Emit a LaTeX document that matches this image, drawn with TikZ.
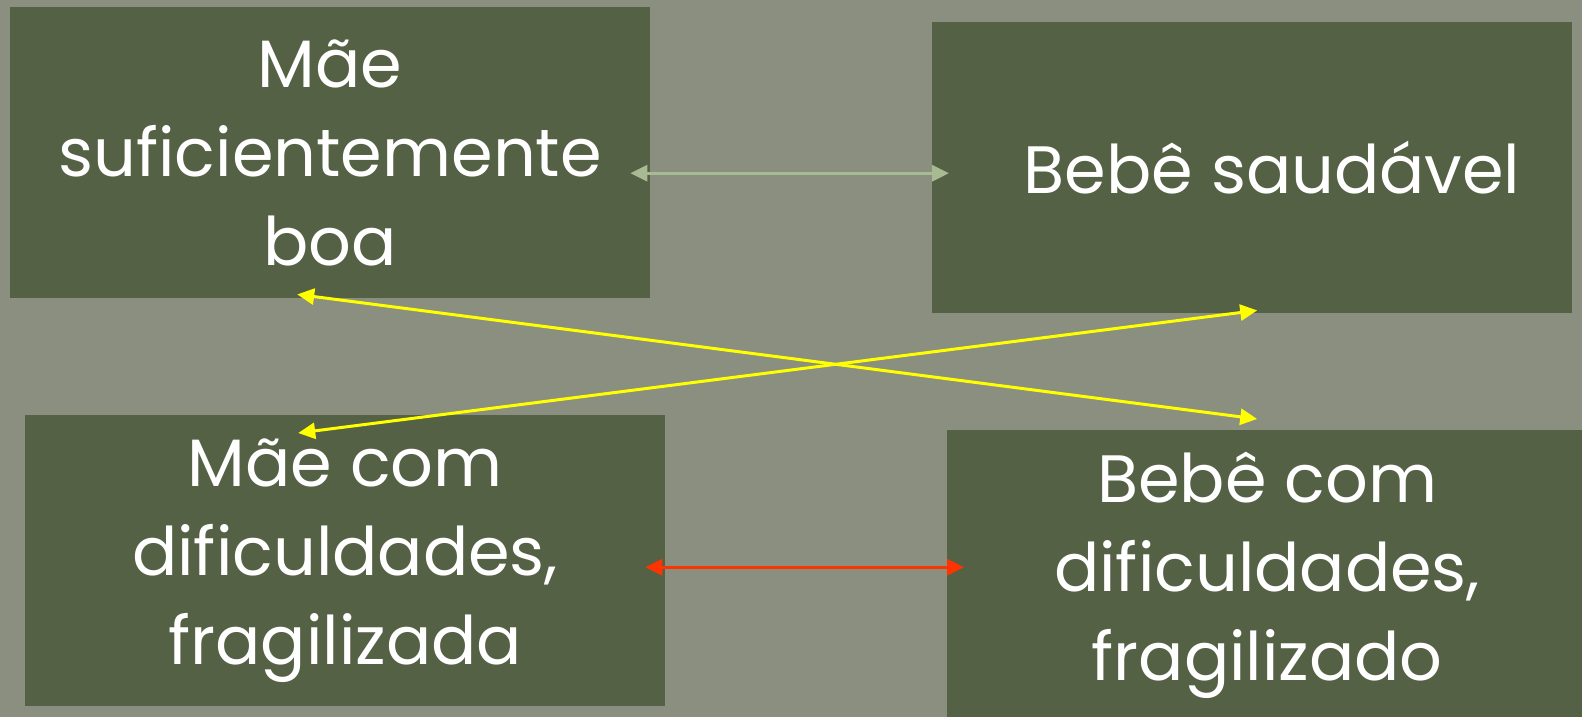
\documentclass[tikz,border=0pt]{standalone}
\usepackage{fontspec}
\setmainfont{Poppins}
\usetikzlibrary{arrows.meta,calc}
\definecolor{bg}{HTML}{8A8F80}
\definecolor{boxg}{HTML}{546144}
\definecolor{sage}{HTML}{A8BA92}
\definecolor{ylw}{HTML}{FFFF00}
\definecolor{redar}{HTML}{FF3300}
\tikzset{
  panel/.style={fill=boxg, draw=none, anchor=north west, minimum width=640pt, minimum height=291pt, inner sep=0pt, text=white, align=center, font=\fontsize{67}{89}\selectfont},
  dbl/.style={line width=3pt, {Triangle[length=17pt,width=16pt]}-{Triangle[length=17pt,width=16pt]}}
}
\begin{document}
\begin{tikzpicture}[x=1pt,y=-1pt]
\fill[bg] (0,0) rectangle (1582,717);
\useasboundingbox (0,0) rectangle (1582,717);
\node[panel] (A) at (10,7) {Mãe\\suficientemente\\boa};
\node[panel] (B) at (932,22) {\hspace*{40pt}Bebê saudável};
\node[panel] (C) at (25,415) {Mãe com\\dificuldades,\\fragilizada};
\begin{scope}
\clip (0,0) rectangle (1582,717);
\node[panel] (D) at (947,430) {Bebê com\\dificuldades,\\fragilizado};
\end{scope}
\draw[dbl, sage] ($(A.east)+(-20,20.5)$) -- ($(B.west)+(17,5.5)$);
\draw[dbl, redar] ($(C.east)+(-20,6.5)$) -- ($(D.west)+(17,-8.5)$);
\draw[dbl, ylw] ($(A.south)+(-33,-4)$) -- ($(D.north)+(-10,-11)$);
\draw[dbl, ylw] ($(C.north)+(-47,18)$) -- ($(B.south)+(5,-3)$);
\end{tikzpicture}
\end{document}
